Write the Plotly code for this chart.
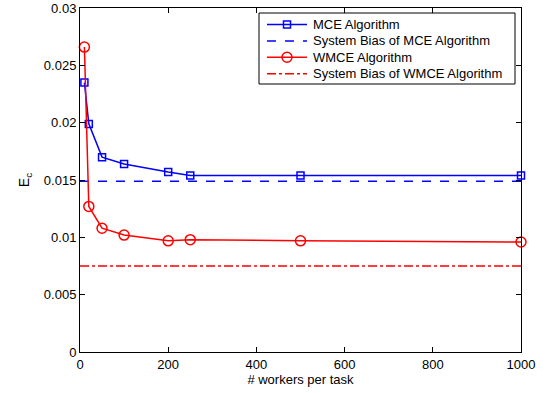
import plotly.graph_objects as go

workers = [10, 20, 50, 100, 200, 250, 500, 1000]
mce = [0.0235, 0.0199, 0.0170, 0.0164, 0.0157, 0.0154, 0.0154, 0.0154]
wmce = [0.0266, 0.0127, 0.0108, 0.0102, 0.0097, 0.0098, 0.0097, 0.0096]
bias_x = [0, 1000]
bias_mce = [0.0149, 0.0149]
bias_wmce = [0.0075, 0.0075]
x_ticks = [0, 200, 400, 600, 800, 1000]
y_ticks = [0, 0.005, 0.01, 0.015, 0.02, 0.025, 0.03]
y_ticktext = ["0", "0.005", "0.01", "0.015", "0.02", "0.025", "0.03"]
legend_names = ["MCE Algorithm", "System Bias of MCE Algorithm",
                "WMCE Algorithm", "System Bias of WMCE Algorithm"]

BLUE = "#0000ff"
RED = "#ff0000"
styles = [
    dict(color=BLUE, dash="solid", marker="square"),
    dict(color=BLUE, dash="dash", marker=None),
    dict(color=RED, dash="solid", marker="circle"),
    dict(color=RED, dash="dashdot", marker=None),
]

W, H = 546, 393
ML, MR, MT, MB = 80, 25, 8, 41
PW, PH = W - ML - MR, H - MT - MB


def px(x):
    return (x - ML) / PW


def py(y):
    return (H - MB - y) / PH


fig = go.Figure()
fig.add_trace(go.Scatter(x=workers, y=mce, mode="lines+markers", name=legend_names[0],
                         cliponaxis=False,
                         line=dict(color=BLUE, width=1.5),
                         marker=dict(symbol="square-open", size=7, color=BLUE, line=dict(width=1.5))))
fig.add_trace(go.Scatter(x=bias_x, y=bias_mce, mode="lines", name=legend_names[1],
                         line=dict(color=BLUE, width=1.5, dash="dash")))
fig.add_trace(go.Scatter(x=workers, y=wmce, mode="lines+markers", name=legend_names[2],
                         cliponaxis=False,
                         line=dict(color=RED, width=1.5),
                         marker=dict(symbol="circle-open", size=10, color=RED, line=dict(width=1.5))))
fig.add_trace(go.Scatter(x=bias_x, y=bias_wmce, mode="lines", name=legend_names[3],
                         line=dict(color=RED, width=1.5, dash="dashdot")))

axis_common = dict(showgrid=False, zeroline=False, showline=True, linecolor="black", linewidth=1,
                   mirror="ticks", ticks="inside", ticklen=5, tickcolor="black",
                   ticklabeloverflow="allow", automargin=False,
                   tickfont=dict(size=13, color="black"))
fig.update_xaxes(range=[0, 1000.01], tickvals=x_ticks,
                 title=dict(text="# workers per task", font=dict(size=13, color="black"), standoff=2),
                 **axis_common)
fig.update_yaxes(range=[0, 0.03001], tickvals=y_ticks, ticktext=y_ticktext,
                 title=dict(text="E<sub>c</sub>", font=dict(size=14, color="black"), standoff=10),
                 **axis_common)

# Custom MATLAB-style legend
shapes = [dict(type="rect", xref="paper", yref="paper", x0=px(259), x1=px(515), y0=py(84), y1=py(13),
               line=dict(color="black", width=1), fillcolor="white", layer="above")]
annotations = []
row_y = [24.5, 40.9, 57.3, 73.7]
for name, st, ry in zip(legend_names, styles, row_y):
    shapes.append(dict(type="line", xref="paper", yref="paper", x0=px(267), x1=px(307),
                       y0=py(ry), y1=py(ry), layer="above",
                       line=dict(color=st["color"], width=1.5, dash=st["dash"])))
    if st["marker"] == "square":
        shapes.append(dict(type="rect", xref="paper", yref="paper", x0=px(283.5), x1=px(290.5),
                           y0=py(ry + 3.5), y1=py(ry - 3.5), layer="above",
                           line=dict(color=st["color"], width=1.5)))
    elif st["marker"] == "circle":
        shapes.append(dict(type="circle", xref="paper", yref="paper", x0=px(282), x1=px(292),
                           y0=py(ry + 5), y1=py(ry - 5), layer="above",
                           line=dict(color=st["color"], width=1.5)))
    annotations.append(dict(xref="paper", yref="paper", x=px(311), y=py(ry), text=name,
                            showarrow=False, xanchor="left", yanchor="middle",
                            font=dict(size=13, color="black")))

fig.update_layout(width=W, height=H, margin=dict(l=ML, r=MR, t=MT, b=MB),
                  plot_bgcolor="white", paper_bgcolor="white", showlegend=False,
                  font=dict(family="Liberation Sans, Arial, sans-serif", size=13, color="black"),
                  shapes=shapes, annotations=annotations)
fig.write_html("out.html")
